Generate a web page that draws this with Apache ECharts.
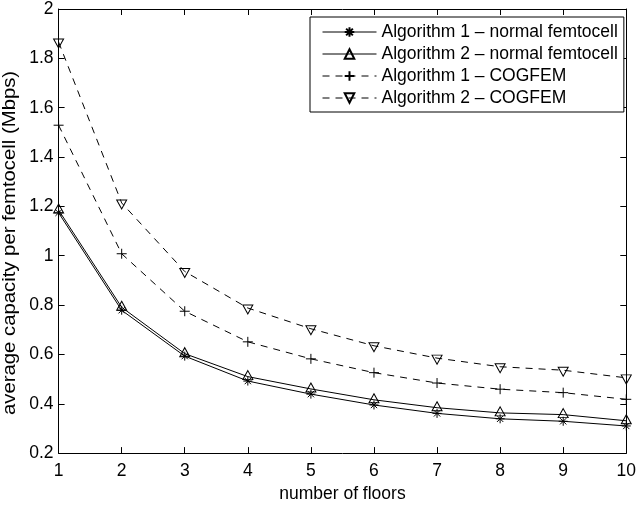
<!DOCTYPE html>
<html>
<head>
<meta charset="utf-8">
<script src="https://cdn.jsdelivr.net/npm/echarts@6/dist/echarts.min.js"></script>
<style>html,body{margin:0;padding:0;background:#fff;}#c{width:639px;height:508px;}</style>
</head>
<body>
<div id="c"></div>
<script>
const floors = [1, 2, 3, 4, 5, 6, 7, 8, 9, 10];
const alg1Normal = [1.174, 0.779, 0.593, 0.492, 0.439, 0.395, 0.361, 0.339, 0.329, 0.310];
const alg2Normal = [1.185, 0.791, 0.603, 0.510, 0.460, 0.416, 0.384, 0.363, 0.356, 0.331];
const alg1Cogfem = [1.529, 1.008, 0.775, 0.651, 0.582, 0.526, 0.484, 0.459, 0.445, 0.418];
const alg2Cogfem = [1.866, 1.214, 0.936, 0.788, 0.704, 0.635, 0.585, 0.550, 0.536, 0.505];
const seriesNames = ['Algorithm 1 \u2013 normal femtocell', 'Algorithm 2 \u2013 normal femtocell', 'Algorithm 1 \u2013 COGFEM', 'Algorithm 2 \u2013 COGFEM'];
const xName = 'number of floors';
const yName = 'average capacity per femtocell (Mbps)';

const FONT = 'Liberation Sans, Arial, Helvetica, sans-serif';
const pair = (ys) => floors.map((x, i) => [x, ys[i]]);
const STAR = 'path://M0,5L10,5M5,0L5,10M1.5,1.5L8.5,8.5M8.5,1.5L1.5,8.5';
const PLUS = 'path://M0,5L10,5M5,0L5,10';
const TRI_UP = 'path://M5,0L10,9L0,9Z';
const TRI_DOWN = 'path://M0,0L10,0L5,9Z';

function mk(name, ys, symbol, size, dashed, offset) {
  return {
    name: name, type: 'line', data: pair(ys),
    symbol: symbol, symbolSize: size, symbolOffset: offset || [0, 0],
    showAllSymbol: true, animation: false,
    lineStyle: { color: '#000', width: 1, type: dashed ? [7, 6] : 'solid' },
    itemStyle: { color: 'rgba(0,0,0,0)', borderColor: '#000', borderWidth: 1 },
    emphasis: { disabled: true }
  };
}

const tickCommon = { show: true, inside: true, length: 6, lineStyle: { color: '#000', width: 1 } };
const axisLineCommon = { show: true, onZero: false, lineStyle: { color: '#000', width: 1 } };

const chart = echarts.init(document.getElementById('c'), null, { renderer: 'canvas' });
chart.setOption({
  backgroundColor: '#fff',
  animation: false,
  grid: { left: 58.6, right: 8.3, top: 8, bottom: 49, containLabel: false },
  legend: {
    data: seriesNames, orient: 'vertical', left: 310, top: 17,
    itemWidth: 54, itemHeight: 12, itemGap: 4,
    padding: [6, 6, 5, 12],
    backgroundColor: '#fff', borderColor: '#000', borderWidth: 1,
    lineStyle: { width: 1 },
    textStyle: { fontFamily: FONT, fontSize: 17.5, color: '#000', lineHeight: 17 },
    selectedMode: false
  },
  graphic: [{
    type: 'text', x: 10, y: 415, rotation: Math.PI / 2, scaleX: 1.16, silent: true,
    style: { text: yName, font: '17.5px ' + FONT, fill: '#000',
      align: 'left', verticalAlign: 'middle', textAlign: 'left', textVerticalAlign: 'middle' }
  }],
  xAxis: [
    { type: 'value', min: 1, max: 10, interval: 1, position: 'bottom',
      name: xName, nameLocation: 'middle', nameGap: 31,
      nameTextStyle: { fontFamily: FONT, fontSize: 17.5, color: '#000' },
      axisLine: axisLineCommon, axisTick: tickCommon,
      axisLabel: { fontFamily: FONT, fontSize: 17.5, color: '#000', margin: 9 },
      splitLine: { show: false } },
    { type: 'value', min: 1, max: 10, interval: 1, position: 'top',
      axisLine: axisLineCommon, axisTick: tickCommon,
      axisLabel: { show: false }, splitLine: { show: false } }
  ],
  yAxis: [
    { type: 'value', min: 0.2, max: 2, interval: 0.2, position: 'left',
      axisLine: axisLineCommon, axisTick: tickCommon,
      axisLabel: { fontFamily: FONT, fontSize: 17.5, color: '#000', margin: 5 },
      splitLine: { show: false } },
    { type: 'value', min: 0.2, max: 2, interval: 0.2, position: 'right',
      axisLine: axisLineCommon, axisTick: tickCommon,
      axisLabel: { show: false }, splitLine: { show: false } }
  ],
  series: [
    mk(seriesNames[0], alg1Normal, STAR, 9, false),
    mk(seriesNames[1], alg2Normal, TRI_UP, [10, 9], false, [0, -1.5]),
    mk(seriesNames[2], alg1Cogfem, PLUS, 10, true),
    mk(seriesNames[3], alg2Cogfem, TRI_DOWN, [10, 9], true, [0, 1.5])
  ]
});
</script>
</body>
</html>
